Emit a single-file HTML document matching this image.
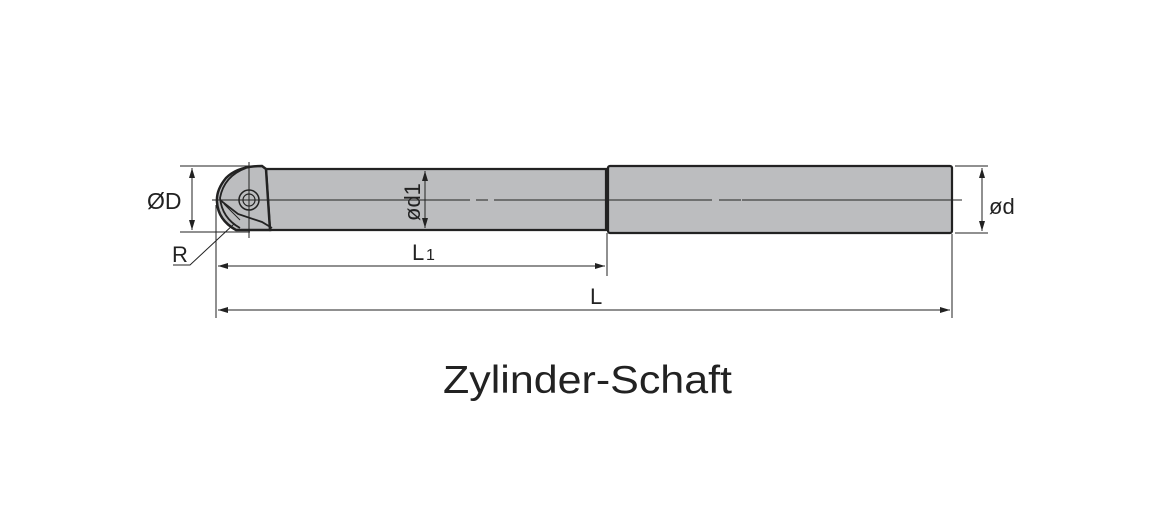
<!DOCTYPE html>
<html><head><style>
html,body{margin:0;padding:0;background:#fff;}
svg{display:block;}
text{font-family:"Liberation Sans",sans-serif;fill:#222;}
</style></head><body>
<svg width="1169" height="532" viewBox="0 0 1169 532" xmlns="http://www.w3.org/2000/svg">
<defs>
<marker id="a" viewBox="0 0 10 6" refX="10" refY="3" markerWidth="10" markerHeight="6" orient="auto-start-reverse" markerUnits="userSpaceOnUse">
<path d="M0,0 L10,3 L0,6 z" fill="#222"/></marker>
</defs>
<rect x="608" y="166" width="344" height="67" rx="2" fill="#bcbdbf" stroke="#222" stroke-width="2.2"/>
<path d="M266,169 L606,169 L606,230 L270,230 Z" fill="#bcbdbf" stroke="#222" stroke-width="2.2"/>
<path d="M262,166 Q238,166 226,178 Q216,190 217,202 Q218,220 236,230 L270,230 L266,169 Z" fill="#bcbdbf" stroke="#222" stroke-width="2.5"/>
<path d="M246,168 Q224,176 220,198 Q222,218 240,228" fill="none" stroke="#222" stroke-width="1.8"/>
<path d="M220,200 L238,214 L262,222 L272,228" fill="none" stroke="#222" stroke-width="1.8"/>
<path d="M224,204 L240,220" fill="none" stroke="#222" stroke-width="1"/>
<circle cx="249" cy="200" r="10" fill="none" stroke="#222" stroke-width="1.5"/>
<circle cx="249" cy="200" r="6" fill="none" stroke="#222" stroke-width="1.2"/>
<line x1="249" y1="162" x2="249" y2="238" stroke="#222" stroke-width="1"/>
<line x1="212" y1="200" x2="470" y2="200" stroke="#222" stroke-width="1"/>
<line x1="476" y1="200" x2="488" y2="200" stroke="#222" stroke-width="1"/>
<line x1="494" y1="200" x2="712" y2="200" stroke="#222" stroke-width="1"/>
<line x1="719" y1="200" x2="741" y2="200" stroke="#222" stroke-width="1"/>
<line x1="742" y1="200" x2="962" y2="200" stroke="#222" stroke-width="1"/>
<line x1="180" y1="166" x2="260" y2="166" stroke="#222" stroke-width="1"/>
<line x1="180" y1="232" x2="250" y2="232" stroke="#222" stroke-width="1"/>
<line x1="192" y1="168" x2="192" y2="230" stroke="#222" stroke-width="1" marker-start="url(#a)" marker-end="url(#a)"/>
<text x="147" y="209" font-size="23">ØD</text>
<polyline points="173,265 190,265 234,224" fill="none" stroke="#222" stroke-width="1"/>
<text x="172" y="262" font-size="22">R</text>
<line x1="425" y1="171" x2="425" y2="228" stroke="#222" stroke-width="1" marker-start="url(#a)" marker-end="url(#a)"/>
<text transform="translate(420,221) rotate(-90)" font-size="22">ød1</text>
<line x1="955" y1="166" x2="988" y2="166" stroke="#222" stroke-width="1"/>
<line x1="955" y1="233" x2="988" y2="233" stroke="#222" stroke-width="1"/>
<line x1="982" y1="168" x2="982" y2="231" stroke="#222" stroke-width="1" marker-start="url(#a)" marker-end="url(#a)"/>
<text x="989" y="214" font-size="22">ød</text>
<line x1="216" y1="205" x2="216" y2="318" stroke="#222" stroke-width="1"/>
<line x1="607" y1="233" x2="607" y2="276" stroke="#222" stroke-width="1"/>
<line x1="952" y1="234" x2="952" y2="318" stroke="#222" stroke-width="1"/>
<line x1="218" y1="266" x2="605" y2="266" stroke="#222" stroke-width="1" marker-start="url(#a)" marker-end="url(#a)"/>
<text x="412" y="260" font-size="22">L</text><text x="426" y="260" font-size="16">1</text>
<line x1="218" y1="310" x2="950" y2="310" stroke="#222" stroke-width="1" marker-start="url(#a)" marker-end="url(#a)"/>
<text x="590" y="304" font-size="22">L</text>
<text x="443" y="393" font-size="39" textLength="289" lengthAdjust="spacingAndGlyphs">Zylinder-Schaft</text>
</svg>
</body></html>
